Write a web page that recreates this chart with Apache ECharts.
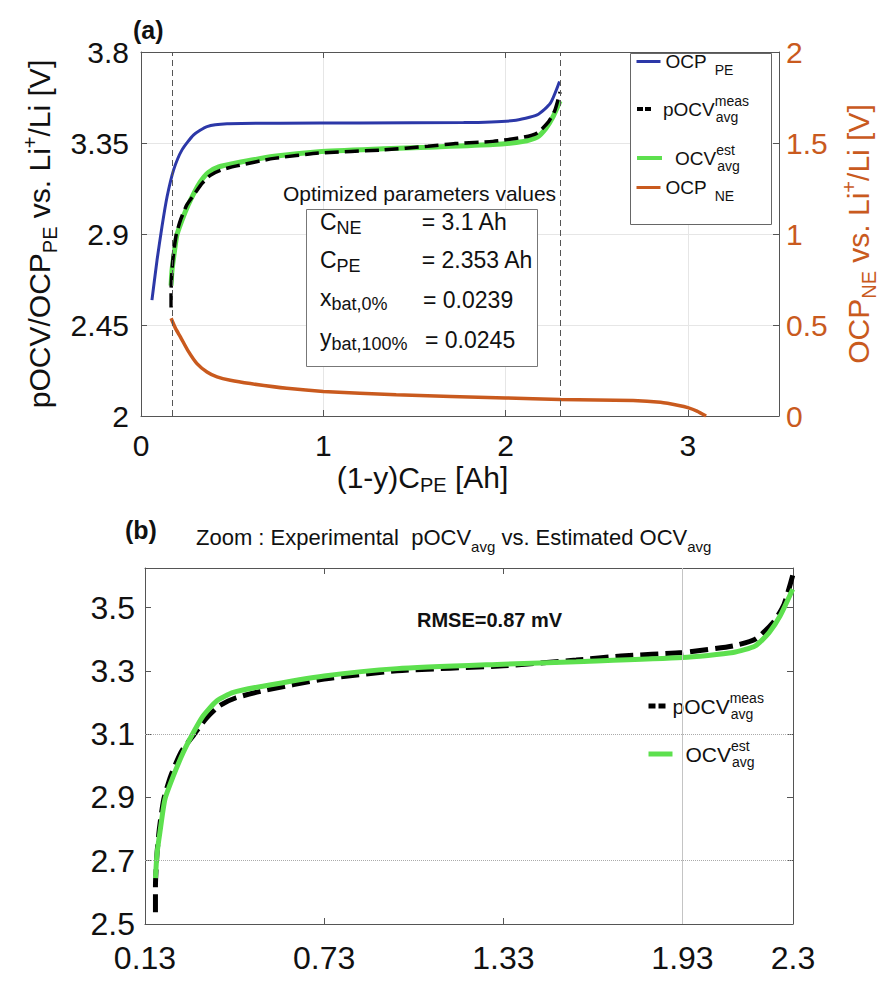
<!DOCTYPE html>
<html>
<head>
<meta charset="utf-8">
<script src="https://cdn.jsdelivr.net/npm/echarts@6/dist/echarts.min.js"></script>
<style>html,body{margin:0;padding:0;background:#fff}#c{width:888px;height:988px}</style>
</head>
<body>
<div id="c"></div>
<script>
// ---------------- data ----------------
const ocpPeX = [0.06,0.088,0.115,0.143,0.179,0.225,0.289,0.362,0.472,0.765,1.2,1.77,2.045,2.173,2.246,2.296];
const ocpPeY = [2.573,2.771,2.936,3.084,3.217,3.316,3.39,3.431,3.445,3.448,3.449,3.451,3.461,3.489,3.547,3.654];

const pocvX = [0.165,0.165,0.170,0.178,0.193,0.217,0.252,0.295,0.335,0.38,0.435,0.525,0.73,0.974,1.33,1.574,1.724,1.93,2.10,2.174,2.234,2.27,2.299];
const pocvY = [2.537,2.62,2.72,2.80,2.895,2.97,3.045,3.10,3.15,3.19,3.215,3.237,3.274,3.30,3.316,3.334,3.347,3.358,3.379,3.40,3.453,3.51,3.602];

const ocvEstX = [0.165,0.170,0.180,0.197,0.225,0.258,0.292,0.325,0.37,0.426,0.515,0.73,0.974,1.33,1.574,1.93,2.10,2.174,2.22,2.257,2.299];
const ocvEstY = [2.645,2.72,2.79,2.895,2.968,3.042,3.105,3.158,3.205,3.232,3.25,3.284,3.307,3.321,3.329,3.342,3.358,3.379,3.421,3.474,3.558];

const ocpNeX = [0.165,0.19,0.216,0.26,0.307,0.362,0.417,0.49,0.6,0.8,1.0,1.4,2.0,2.3,2.7,2.85,2.95,3.0,3.05,3.1];
const ocpNeY = [0.537,0.48,0.435,0.355,0.288,0.242,0.215,0.196,0.178,0.152,0.135,0.117,0.099,0.09,0.085,0.075,0.058,0.046,0.027,0.0];

// tick labels
const topXTicks = [0, 1, 2, 3];
const topXMax = 3.5;
const topLeftTicks = [2, 2.45, 2.9, 3.35, 3.8];
const topRightTicks = [0, 0.5, 1, 1.5, 2];
const botXTicks = [0.13, 0.73, 1.33, 1.93, 2.3];
const botYTicks = [2.5, 2.7, 2.9, 3.1, 3.3, 3.5];
const botYMax = 3.625;

// reference lines
const boundaryX = [0.166, 2.3];
const botGridY = [3.1, 2.7];
const botGridX = [1.93];

// ---------------- helpers ----------------
const FONT = '"Liberation Sans", Arial, Helvetica, sans-serif';
const INK = '#111';
const ORANGE = '#c95a1e';
const BLUE = '#2c38a8';
const GREEN = '#5de04e';
const AXC = '#555';
const zip = (xs, ys) => xs.map((x, i) => [x, ys[i]]);
const fmt = v => String(+(+v).toFixed(2));

function valAxis(o) {
  return Object.assign({
    type: 'value',
    axisLine: { show: true, onZero: false, lineStyle: { color: AXC, width: 1 } },
    axisTick: { show: true, inside: true, length: 6, lineStyle: { color: AXC } },
    splitLine: { show: false },
    axisLabel: { show: false }
  }, o);
}
function lbl(size, color, margin, extra) {
  return Object.assign({ show: true, fontSize: size, color: color, fontFamily: FONT, margin: margin, formatter: fmt }, extra || {});
}

const topLegendRich = {
  m: { fontSize: 19, lineHeight: 30, color: INK, fontFamily: FONT },
  pad: { fontSize: 10, width: 8 },
  pad2: { fontSize: 10, width: 6 },
  sp: { fontSize: 14, lineHeight: 8, verticalAlign: 'top', width: 1, color: INK, fontFamily: FONT },
  sb: { fontSize: 14, lineHeight: 10, verticalAlign: 'bottom', color: INK, fontFamily: FONT }
};
const botLegendRich = {
  m: { fontSize: 21, lineHeight: 30, color: INK, fontFamily: FONT },
  pad: { fontSize: 10, width: 8 },
  pad2: { fontSize: 10, width: 2 },
  sp: { fontSize: 14, lineHeight: 4, verticalAlign: 'top', width: 1, color: INK, fontFamily: FONT },
  sb: { fontSize: 14, lineHeight: 4, verticalAlign: 'bottom', color: INK, fontFamily: FONT }
};
const legendText = {
  OCP_PE: '{m|OCP}{pad| }{sb|PE}',
  pOCV_a: '{pad2| }{m|pOCV}{sp|meas}{sb|avg}',
  OCV_est_a: '{pad| }{m|OCV}{sp|est}{sb|avg}',
  OCP_NE: '{m|OCP}{pad| }{sb|NE}',
  pOCV_b: '{pad2| }{m|pOCV}{sp|meas}{sb|avg}',
  OCV_est_b: '{pad| }{m|OCV}{sp|est}{sb|avg}'
};
function legendItem(name, left, top, itemWidth, lineStyle, rich) {
  return {
    data: [name], orient: 'vertical', left: left, top: top, padding: 0,
    itemWidth: itemWidth, itemHeight: 12, selectedMode: false, z: 5,
    lineStyle: lineStyle,
    itemStyle: { color: 'rgba(0,0,0,0)', borderWidth: 0, opacity: 0 },
    formatter: n => legendText[n],
    textStyle: { fontFamily: FONT, color: INK, rich: rich }
  };
}

const nameRichTop = {
  m: { fontSize: 30, lineHeight: 40, fontFamily: FONT },
  s: { fontSize: 20, lineHeight: 8, verticalAlign: 'bottom', fontFamily: FONT },
  u: { fontSize: 20, lineHeight: 2, verticalAlign: 'top', fontFamily: FONT }
};

const option = {
  animation: false,
  backgroundColor: '#fff',
  textStyle: { fontFamily: FONT },
  grid: [
    { left: 141, top: 52, width: 638, height: 364, outerBoundsMode: 'none', containLabel: false },
    { left: 145, top: 568, width: 648, height: 356, outerBoundsMode: 'none', containLabel: false }
  ],
  xAxis: [
    valAxis({
      gridIndex: 0, position: 'bottom',
      min: topXTicks[0], max: topXMax, interval: topXTicks[1] - topXTicks[0],
      axisLabel: lbl(30, INK, 14, { showMaxLabel: false }),
      splitLine: { show: true, lineStyle: { color: '#e6e6e6', width: 1 } },
      name: '{m|(1-y)C}{s|PE}{m| [Ah]}', nameLocation: 'middle', nameGap: 43,
      nameTextStyle: { color: INK, fontSize: 30, fontFamily: FONT, padding: [0, 75, 0, 0],
        rich: { m: { fontSize: 30, lineHeight: 36, fontFamily: FONT, color: INK }, s: { fontSize: 20, lineHeight: 8, verticalAlign: 'bottom', fontFamily: FONT, color: INK } } }
    }),
    valAxis({ gridIndex: 0, position: 'top', min: topXTicks[0], max: topXMax, interval: topXTicks[1] - topXTicks[0] }),
    valAxis({
      gridIndex: 1, position: 'bottom',
      min: botXTicks[0], max: botXTicks[botXTicks.length - 1], interval: +(botXTicks[1] - botXTicks[0]).toFixed(2),
      axisLabel: lbl(32, INK, 18)
    }),
    valAxis({ gridIndex: 1, position: 'top', min: botXTicks[0], max: botXTicks[botXTicks.length - 1], interval: +(botXTicks[1] - botXTicks[0]).toFixed(2) })
  ],
  yAxis: [
    valAxis({
      gridIndex: 0, position: 'left',
      min: topLeftTicks[0], max: topLeftTicks[topLeftTicks.length - 1], interval: +(topLeftTicks[1] - topLeftTicks[0]).toFixed(2),
      axisLabel: lbl(30, INK, 12),
      splitLine: { show: true, lineStyle: { color: '#e6e6e6', width: 1 } },
      name: '{m|pOCV/OCP}{s|PE}{m| vs. Li}{u|+}{m|/Li [V]}', nameLocation: 'middle', nameGap: 66,
      nameTextStyle: { color: INK, fontSize: 30, fontFamily: FONT, rich: nameRichTop }
    }),
    valAxis({
      gridIndex: 0, position: 'right',
      min: topRightTicks[0], max: topRightTicks[topRightTicks.length - 1], interval: topRightTicks[1] - topRightTicks[0],
      axisLabel: lbl(30, ORANGE, 7),
      name: '{m|OCP}{s|NE}{m| vs. Li}{u|+}{m|/Li [V]}', nameLocation: 'middle', nameGap: 46,
      nameTextStyle: { color: ORANGE, fontSize: 30, fontFamily: FONT, rich: nameRichTop }
    }),
    valAxis({
      gridIndex: 1, position: 'left',
      min: botYTicks[0], max: botYMax, interval: +(botYTicks[1] - botYTicks[0]).toFixed(2),
      axisLabel: lbl(32, INK, 10, { showMaxLabel: false })
    }),
    valAxis({ gridIndex: 1, position: 'right', min: botYTicks[0], max: botYMax, interval: +(botYTicks[1] - botYTicks[0]).toFixed(2) })
  ],
  legend: [
    legendItem('OCP_PE', 635, 52, 24, { width: 3, color: BLUE }, topLegendRich),
    legendItem('pOCV_a', 635, 94, 15, { width: 4, type: [6, 2], color: '#000' }, topLegendRich),
    legendItem('OCV_est_a', 635, 143, 25, { width: 4, color: GREEN }, topLegendRich),
    legendItem('OCP_NE', 635, 178, 24, { width: 3, color: ORANGE }, topLegendRich),
    legendItem('pOCV_b', 646, 691, 17, { width: 5, type: [7, 3], color: '#000' }, botLegendRich),
    legendItem('OCV_est_b', 646, 739, 24, { width: 5, color: GREEN }, botLegendRich)
  ],
  series: [
    {
      name: 'OCP_PE', type: 'line', xAxisIndex: 0, yAxisIndex: 0, data: zip(ocpPeX, ocpPeY),
      symbol: 'none', smooth: 0.2, color: BLUE, lineStyle: { color: BLUE, width: 3 },
      markLine: { silent: true, symbol: 'none', label: { show: false },
        lineStyle: { color: '#555', width: 1, type: [6, 4] },
        data: boundaryX.map(v => ({ xAxis: v })) }
    },
    {
      name: 'OCV_est_a', type: 'line', xAxisIndex: 0, yAxisIndex: 0, data: zip(ocvEstX, ocvEstY),
      symbol: 'none', smooth: 0.2, color: GREEN, lineStyle: { color: GREEN, width: 5 }
    },
    {
      name: 'pOCV_a', type: 'line', xAxisIndex: 0, yAxisIndex: 0, data: zip(pocvX, pocvY),
      symbol: 'none', smooth: 0.2, color: '#000', lineStyle: { color: '#000', width: 3.5, type: [14, 6] }
    },
    {
      name: 'OCP_NE', type: 'line', xAxisIndex: 0, yAxisIndex: 1, data: zip(ocpNeX, ocpNeY),
      symbol: 'none', smooth: 0.2, color: ORANGE, lineStyle: { color: ORANGE, width: 3.5 }
    },
    {
      name: 'pOCV_b', type: 'line', xAxisIndex: 2, yAxisIndex: 2, data: zip(pocvX, pocvY),
      symbol: 'none', smooth: 0.2, color: '#000', lineStyle: { color: '#000', width: 5, type: [18, 7] },
      markLine: { silent: true, symbol: 'none', label: { show: false },
        data: botGridY.map(v => ({ yAxis: v, lineStyle: { color: '#aaa', width: 1, type: 'dotted' } }))
          .concat(botGridX.map(v => ({ xAxis: v, lineStyle: { color: '#c4c4c4', width: 1, type: 'solid' } }))) }
    },
    {
      name: 'OCV_est_b', type: 'line', xAxisIndex: 2, yAxisIndex: 2, data: zip(ocvEstX, ocvEstY),
      symbol: 'none', smooth: 0.2, color: GREEN, lineStyle: { color: GREEN, width: 5 }
    }
  ],
  graphic: [
    // panel labels
    { type: 'text', x: 133, y: 30, z: 6, style: { text: '(a)', font: 'bold 25px ' + FONT, fill: INK, verticalAlign: 'middle' } },
    { type: 'text', x: 125, y: 530, z: 6, style: { text: '(b)', font: 'bold 25px ' + FONT, fill: INK, verticalAlign: 'middle' } },
    // legend box (top)
    { type: 'rect', z: 3, shape: { x: 630.5, y: 53.5, width: 141, height: 171 }, style: { fill: '#fff', stroke: '#666', lineWidth: 1 } },
    // legend backdrop (bottom)
    { type: 'rect', z: 3, shape: { x: 641, y: 687, width: 143, height: 90 }, style: { fill: '#fff', stroke: null } },
    // parameter box
    { type: 'text', x: 283, y: 193, z: 6, style: { text: 'Optimized parameters values', font: '21px ' + FONT, fill: INK, verticalAlign: 'middle' } },
    { type: 'rect', z: 3, shape: { x: 306.5, y: 209.5, width: 231, height: 157 }, style: { fill: '#fff', stroke: '#777', lineWidth: 1 } },
    { type: 'text', x: 320, y: 221.7, z: 6, style: { text: '{m|C}{s|NE}', verticalAlign: 'middle', fill: INK,
        rich: { m: { fontSize: 23, lineHeight: 30, fontFamily: FONT, fill: INK }, s: { fontSize: 18, lineHeight: 14, verticalAlign: 'bottom', fontFamily: FONT, fill: INK } } } },
    { type: 'text', x: 320, y: 260, z: 6, style: { text: '{m|C}{s|PE}', verticalAlign: 'middle', fill: INK,
        rich: { m: { fontSize: 23, lineHeight: 30, fontFamily: FONT, fill: INK }, s: { fontSize: 18, lineHeight: 16, verticalAlign: 'bottom', fontFamily: FONT, fill: INK } } } },
    { type: 'text', x: 320, y: 298, z: 6, style: { text: '{m|x}{s|bat,0%}', verticalAlign: 'middle', fill: INK,
        rich: { m: { fontSize: 23, lineHeight: 30, fontFamily: FONT, fill: INK }, s: { fontSize: 18, lineHeight: 4, verticalAlign: 'bottom', fontFamily: FONT, fill: INK } } } },
    { type: 'text', x: 320, y: 338, z: 6, style: { text: '{m|y}{s|bat,100%}', verticalAlign: 'middle', fill: INK,
        rich: { m: { fontSize: 23, lineHeight: 30, fontFamily: FONT, fill: INK }, s: { fontSize: 18, lineHeight: 6, verticalAlign: 'bottom', fontFamily: FONT, fill: INK } } } },
    { type: 'text', x: 421.7, y: 221.7, z: 6, style: { text: '= 3.1 Ah', font: '23px ' + FONT, fill: INK, verticalAlign: 'middle' } },
    { type: 'text', x: 421.7, y: 260, z: 6, style: { text: '= 2.353 Ah', font: '23px ' + FONT, fill: INK, verticalAlign: 'middle' } },
    { type: 'text', x: 423, y: 300, z: 6, style: { text: '= 0.0239', font: '23px ' + FONT, fill: INK, verticalAlign: 'middle' } },
    { type: 'text', x: 425, y: 340, z: 6, style: { text: '= 0.0245', font: '23px ' + FONT, fill: INK, verticalAlign: 'middle' } },
    // bottom panel title and RMSE
    { type: 'text', x: 196, y: 537, z: 6, style: { text: '{m|Zoom : Experimental  pOCV}{s|avg}{m| vs. Estimated OCV}{s|avg}', verticalAlign: 'middle', fill: INK,
        rich: { m: { fontSize: 22, lineHeight: 34, fontFamily: FONT, fill: INK }, s: { fontSize: 15, lineHeight: 2, verticalAlign: 'bottom', fontFamily: FONT, fill: INK } } } },
    { type: 'text', x: 417, y: 620, z: 6, style: { text: 'RMSE=0.87 mV', font: 'bold 20px ' + FONT, fill: INK, verticalAlign: 'middle' } }
  ]
};

const chart = echarts.init(document.getElementById('c'), null, { renderer: 'svg', width: 888, height: 988 });
chart.setOption(option);
</script>
</body>
</html>
